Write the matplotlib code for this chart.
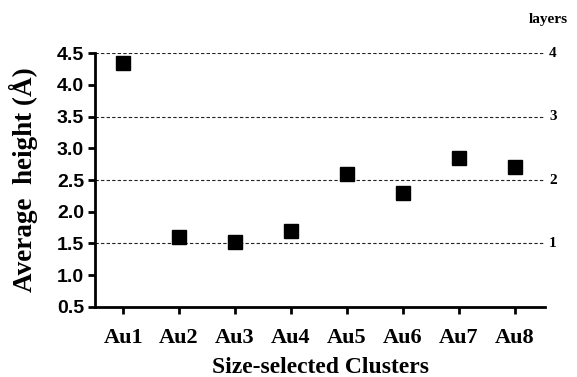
import matplotlib.pyplot as plt

# data
clusters = ['Au1', 'Au2', 'Au3', 'Au4', 'Au5', 'Au6', 'Au7', 'Au8']
heights = [4.34, 1.60, 1.53, 1.70, 2.60, 2.30, 2.84, 2.71]
layer_heights = [1.5, 2.5, 3.5, 4.5]
layer_labels = ['1', '2', '3', '4']

serif = 'Liberation Serif'
sans = 'Liberation Sans'

fig = plt.figure(figsize=(5.77, 3.77), dpi=100)
ax = fig.add_axes([0.165, 0.186, 0.78, 0.673])

x = list(range(1, len(clusters) + 1))

# layer reference lines
for h, lab in zip(layer_heights, layer_labels):
    ax.axhline(h, color='#222222', linestyle=(0, (3, 2)), linewidth=0.8, zorder=1)
    ax.text(8.62, h, lab, fontfamily=serif, fontweight='bold', fontsize=11,
            ha='left', va='center', clip_on=False)
fig.text(548 / 577, 1 - 20 / 377, 'layers', fontfamily=serif, fontweight='bold',
         fontsize=11, ha='center', va='center')

ax.plot(x, heights, 's', color='black', markersize=10, zorder=3)

ax.set_xlim(0.5, 8.55)
ax.set_ylim(0.5, 4.5)
ax.set_xticks(x)
ax.set_xticklabels(clusters, fontfamily=serif, fontweight='bold', fontsize=16)
ax.set_yticks([0.5, 1.0, 1.5, 2.0, 2.5, 3.0, 3.5, 4.0, 4.5])
ax.set_yticklabels([f'{v:.1f}' for v in ax.get_yticks()],
                   fontfamily=sans, fontweight='bold', fontsize=14)

for side in ['top', 'right']:
    ax.spines[side].set_visible(False)
for side in ['left', 'bottom']:
    ax.spines[side].set_linewidth(2)
ax.tick_params(width=2, length=5, pad=3)
ax.tick_params(axis='x', pad=10)

ax.set_xlabel('Size-selected Clusters', fontfamily=serif, fontweight='bold',
              fontsize=17, labelpad=7)
ax.set_ylabel('Average  height (Å)', fontfamily=serif, fontweight='bold',
              fontsize=19.5)
ax.yaxis.set_label_coords(-0.128, 0.5)

fig.savefig('out.png', dpi=100)
